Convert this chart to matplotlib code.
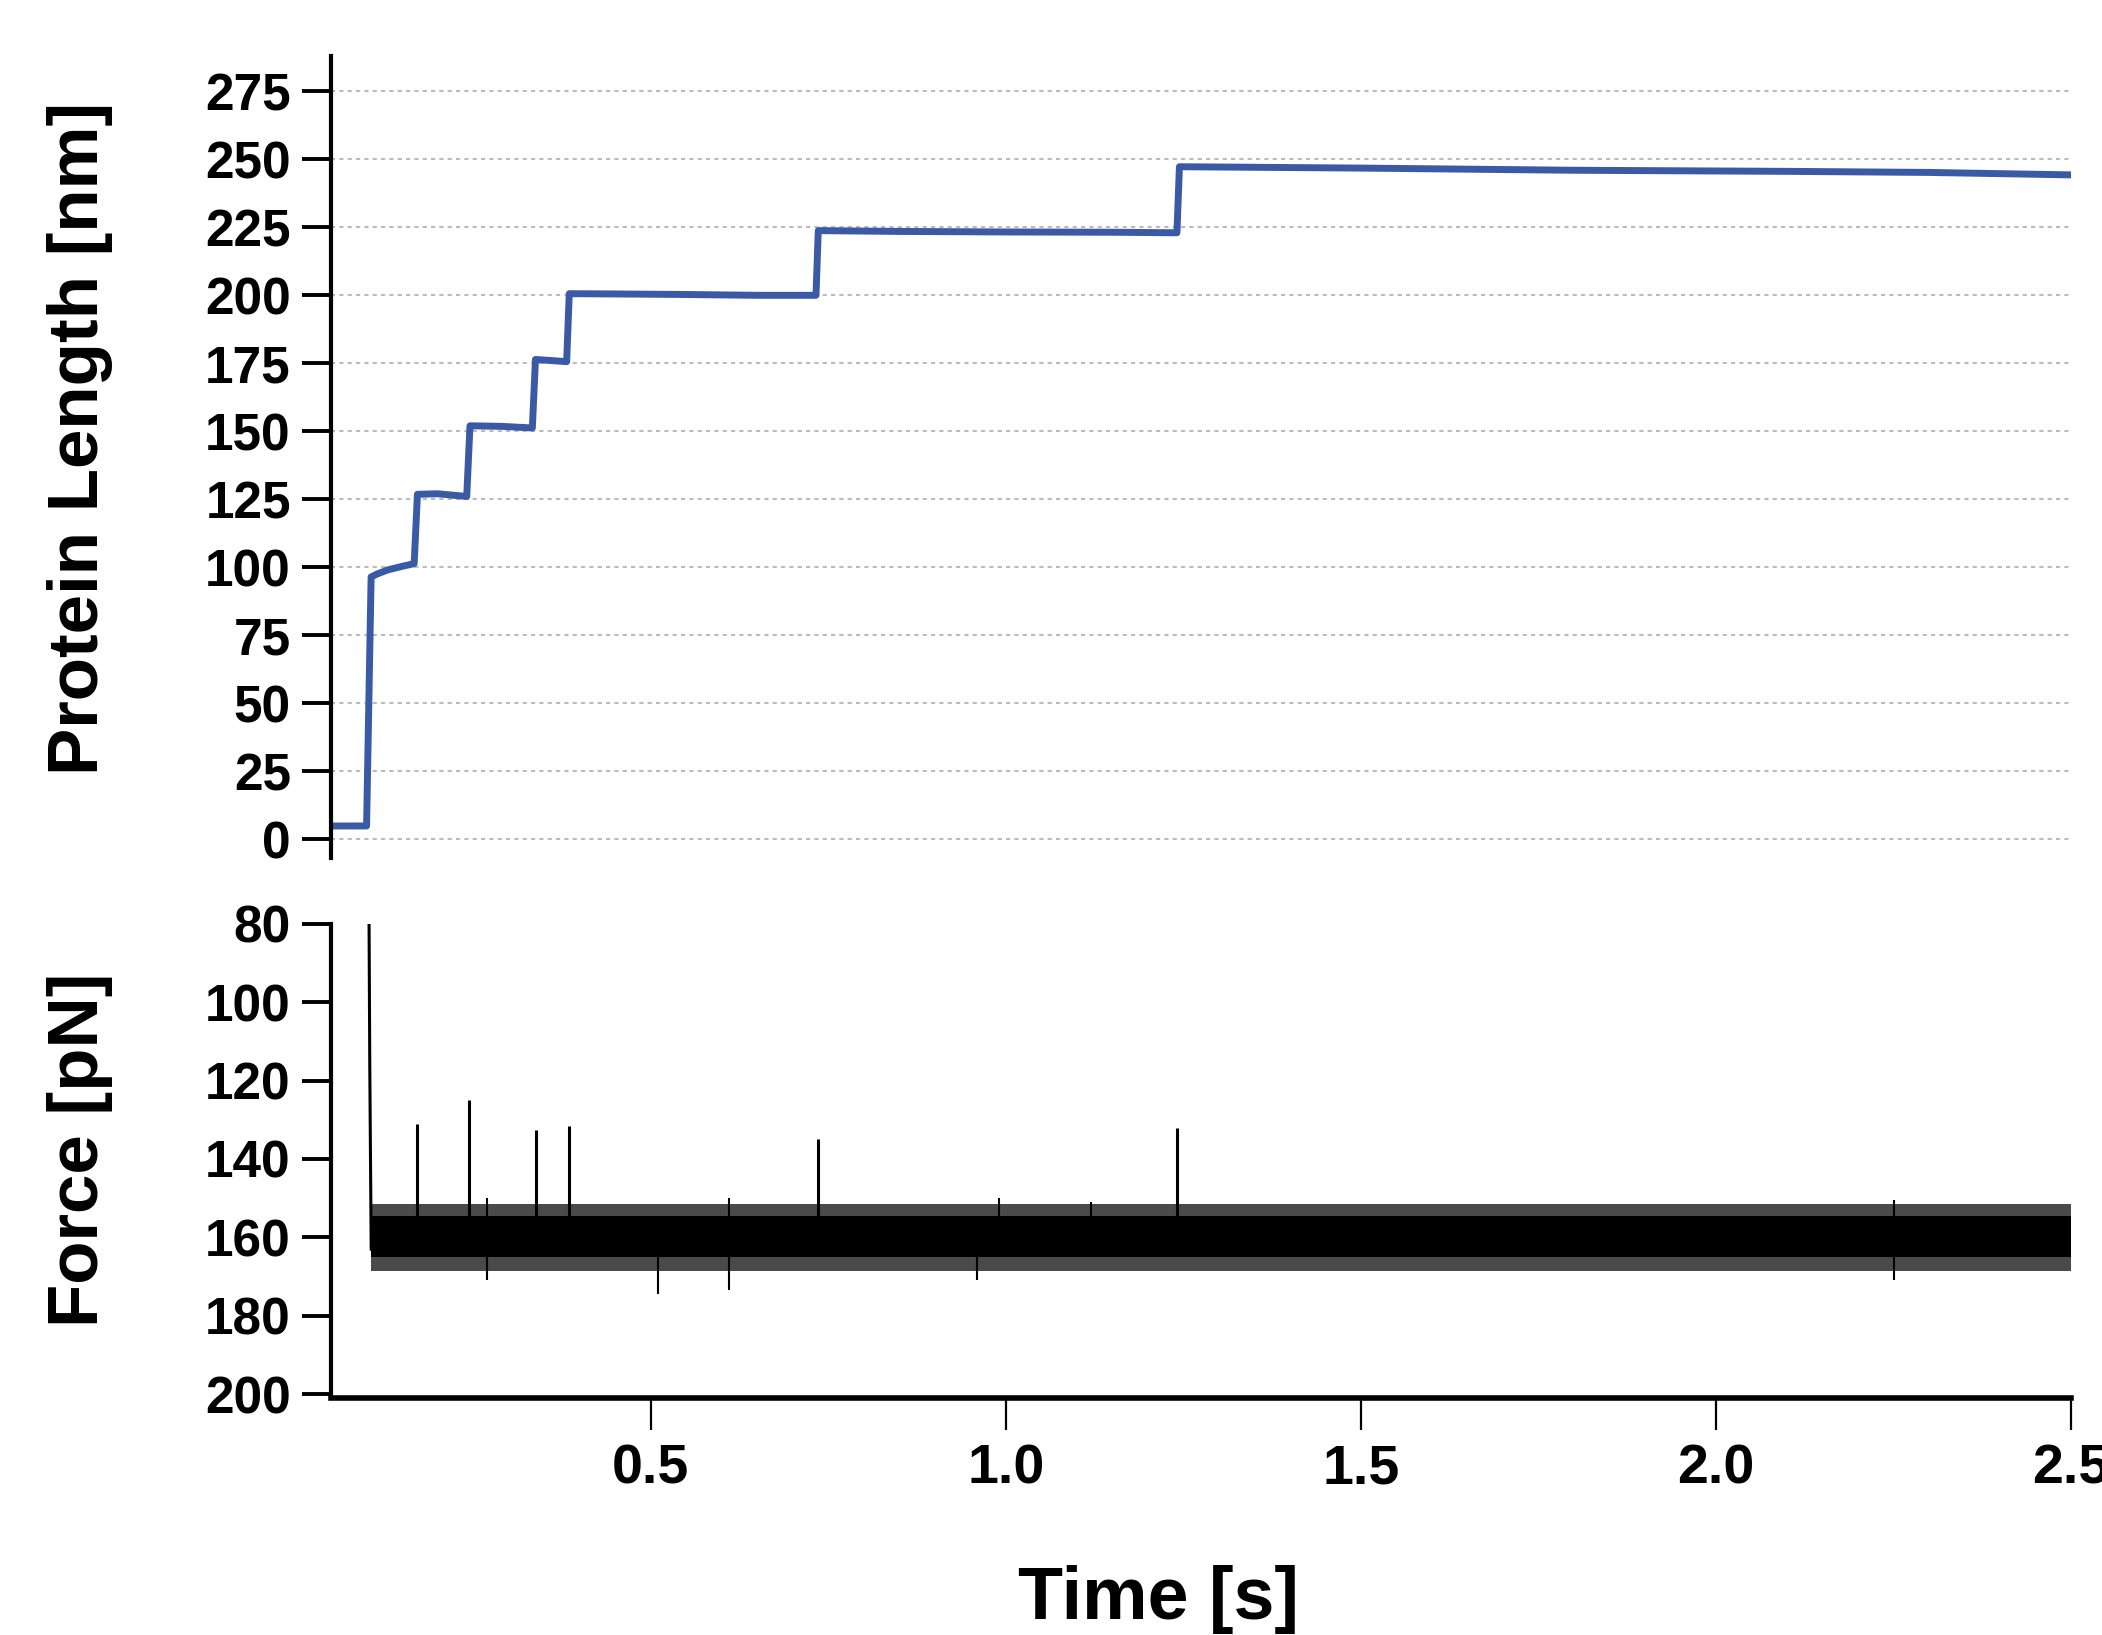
import numpy as np
import matplotlib.pyplot as plt

plt.rcParams['font.family'] = ['Liberation Sans', 'DejaVu Sans']
plt.rcParams['font.weight'] = 'bold'

# protein length trace (vertices)
length_t = [0.05, 0.100, 0.1064, 0.115, 0.13, 0.15, 0.167, 0.1716, 0.20, 0.241,
            0.2456, 0.29, 0.3334, 0.3378, 0.36, 0.3817, 0.3854, 0.45, 0.55, 0.65,
            0.7328, 0.736, 0.85, 1.0, 1.15, 1.241, 1.2445, 1.5, 1.8, 2.1, 2.3, 2.5]
length_nm = [4.8, 4.8, 96.4, 97.5, 99.0, 100.3, 101.3, 126.8, 127.0, 126.0,
             152.0, 151.8, 151.2, 176.4, 176.0, 175.6, 200.6, 200.5, 200.3, 200.0,
             200.0, 223.8, 223.5, 223.3, 223.2, 223.0, 247.3, 246.8, 246.0, 245.6, 245.2, 244.3]

# force trace: onset, baseline level with noise envelope, unfolding spikes
onset_t = [0.1035, 0.1045, 0.1065]
onset_f = [80, 116, 163]
base_t = [0.1065, 2.5]
base_f = [159.5, 159.5]
core_lo = [154.5, 154.5]
core_hi = [165.0, 165.0]
fringe_lo = [151.5, 151.5]
fringe_hi = [168.5, 168.5]
spike_t = [0.171, 0.244, 0.338, 0.385, 0.736, 1.2416]
spike_top = [131, 125, 132.5, 131.5, 135, 132]
outlier_t = [0.27, 0.51, 0.61, 0.96, 2.25, 0.27, 0.61, 0.99, 1.12, 2.25]
outlier_f = [171, 174.5, 173.5, 171, 171, 150, 150, 150, 151, 150.5]

len_ticks = [0, 25, 50, 75, 100, 125, 150, 175, 200, 225, 250, 275]
force_ticks = [80, 100, 120, 140, 160, 180, 200]
time_ticks = [0.5, 1.0, 1.5, 2.0, 2.5]

fig = plt.figure(figsize=(21.02, 16.35), dpi=100)
ax1 = fig.add_axes([0.1575, 0.4752, 0.8278, 0.4905])
ax2 = fig.add_axes([0.1575, 0.1450, 0.8278, 0.2899])

# top panel
ax1.plot(length_t, length_nm, color='#3b5aa6', lw=5, solid_joinstyle='round')
ax1.set_xlim(0.05, 2.5)
ax1.set_ylim(-7, 288)
ax1.set_yticks(len_ticks)
ax1.set_xticks([])
for y in len_ticks:
    ax1.axhline(y, color='#bbbbbb', lw=1.5, ls=(0, (2, 2)), zorder=0)
for s in ['top', 'right', 'bottom']:
    ax1.spines[s].set_visible(False)
ax1.spines['left'].set_linewidth(3)
ax1.tick_params(axis='y', length=21, width=2.8, pad=8, labelsize=37)

# bottom panel
ax2.fill_between(base_t, fringe_lo, fringe_hi, color='#4a4a4a', lw=0)
ax2.fill_between(base_t, core_lo, core_hi, color='black', lw=0)
ax2.plot(base_t, base_f, color='black', lw=1)
ax2.plot(onset_t, onset_f, color='black', lw=2.2)
ax2.vlines(spike_t, base_f[0], spike_top, color='black', lw=2.2)
ax2.vlines(outlier_t, base_f[0], outlier_f, color='black', lw=1.5)
ax2.set_xlim(0.05, 2.5)
ax2.set_ylim(201, 80)
ax2.set_yticks(force_ticks)
ax2.set_xticks(time_ticks)
ax2.set_xticklabels(['0.5', '1.0', '1.5', '2.0', '2.5'])
for s in ['top', 'right']:
    ax2.spines[s].set_visible(False)
ax2.spines['left'].set_linewidth(3)
ax2.spines['bottom'].set_linewidth(4)
ax2.tick_params(axis='y', length=21, width=2.8, pad=8, labelsize=37)
ax2.tick_params(axis='x', length=23, width=1.6, pad=10, labelsize=40)

fig.text(0.038, 0.732, 'Protein Length [nm]', rotation=90, ha='center', va='center',
         fontsize=51, fontweight='bold')
fig.text(0.038, 0.297, 'Force [pN]', rotation=90, ha='center', va='center',
         fontsize=51, fontweight='bold')
fig.text(0.551, 0.010, 'Time [s]', ha='center', va='baseline', fontsize=53, fontweight='bold')

fig.savefig('out.png', dpi=100)
